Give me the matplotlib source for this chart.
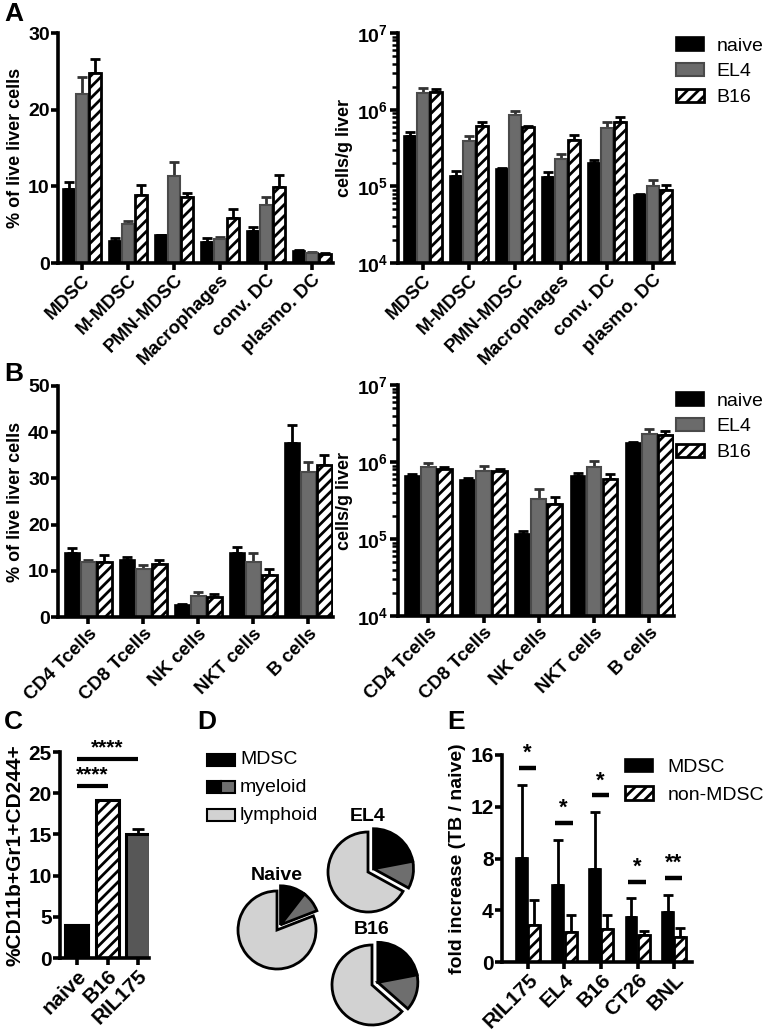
import numpy as np
import matplotlib
matplotlib.use('Agg')
import matplotlib.pyplot as plt
from matplotlib.patches import Rectangle
from matplotlib.ticker import LogLocator, NullFormatter, MultipleLocator

plt.rcParams['font.family'] = ['Liberation Sans', 'DejaVu Sans']
plt.rcParams['font.weight'] = 'bold'
plt.rcParams['hatch.linewidth'] = 2.0
plt.rcParams['mathtext.default'] = 'regular'

# ---------------- data ----------------
groups = ['naive', 'EL4', 'B16']

cats_A = ['MDSC', 'M-MDSC', 'PMN-MDSC', 'Macrophages', 'conv. DC', 'plasmo. DC']
pctA_naive = [9.6, 2.9, 3.6, 2.8, 4.2, 1.6]
pctA_naive_err = [1.0, 0.3, 0.1, 0.4, 0.5, 0.1]
pctA_el4 = [22.0, 5.1, 11.3, 3.1, 7.6, 1.3]
pctA_el4_err = [2.3, 0.4, 1.9, 0.3, 1.0, 0.1]
pctA_b16 = [24.8, 8.9, 8.6, 5.9, 9.9, 1.2]
pctA_b16_err = [1.8, 1.3, 0.5, 1.2, 1.6, 0.1]

cntA_naive = [4.6e5, 1.38e5, 1.68e5, 1.31e5, 2.0e5, 7.6e4]
cntA_naive_err = [0.45e5, 0.19e5, 0.05e5, 0.21e5, 0.23e5, 0.4e4]
cntA_el4 = [1.65e6, 3.86e5, 8.4e5, 2.3e5, 5.77e5, 1.0e5]
cntA_el4_err = [0.27e6, 0.63e5, 1.3e5, 0.37e5, 1.1e5, 0.22e5]
cntA_b16 = [1.70e6, 6.06e5, 5.9e5, 4.0e5, 6.84e5, 9.06e4]
cntA_b16_err = [0.18e6, 0.84e5, 0.3e5, 0.7e5, 1.1e5, 1.4e4]

cats_B = ['CD4 Tcells', 'CD8 Tcells', 'NK cells', 'NKT cells', 'B cells']
pctB_naive = [13.9, 12.3, 2.7, 13.9, 37.7]
pctB_naive_err = [1.0, 0.7, 0.2, 1.2, 3.8]
pctB_el4 = [11.8, 10.4, 4.5, 11.8, 31.3]
pctB_el4_err = [0.6, 0.8, 0.9, 2.1, 2.2]
pctB_b16 = [12.0, 11.5, 4.3, 9.0, 33.0]
pctB_b16_err = [1.4, 0.9, 0.7, 1.3, 2.0]

cntB_naive = [6.57e5, 5.77e5, 1.17e5, 6.57e5, 1.79e6]
cntB_naive_err = [0.5e5, 0.5e5, 0.09e5, 0.6e5, 0.03e6]
cntB_el4 = [8.6e5, 7.6e5, 3.33e5, 8.6e5, 2.34e6]
cntB_el4_err = [1.2e5, 1.3e5, 1.07e5, 1.7e5, 0.33e6]
cntB_b16 = [8.0e5, 7.6e5, 2.86e5, 6.06e5, 2.25e6]
cntB_b16_err = [0.7e5, 0.6e5, 0.64e5, 0.84e5, 0.29e6]

cats_C = ['naive', 'B16', 'RIL175']
vals_C = [4.0, 19.2, 15.0]
errs_C = [0.0, 0.0, 0.65]
sig_C_pairs = [(0, 1), (0, 2)]
sig_C_heights = [20.9, 24.15]
sig_C_labels = ['****', '****']

pie_labels = ['MDSC', 'myeloid', 'lymphoid']
pie_naive = [10.5, 8.6, 80.9]
pie_el4 = [22.0, 11.0, 67.0]
pie_b16 = [22.0, 14.5, 63.5]

cats_E = ['RIL175', 'EL4', 'B16', 'CT26', 'BNL']
mdsc_E = [8.05, 5.99, 7.17, 3.48, 3.87]
mdsc_E_err = [5.65, 3.46, 4.39, 1.50, 1.34]
non_E = [2.84, 2.32, 2.53, 2.06, 1.90]
non_E_err = [1.93, 1.28, 1.07, 0.31, 0.73]
sig_E_heights = [15.0, 10.76, 12.9, 6.19, 6.53]
sig_E_labels = ['*', '*', '*', '*', '**']

# ---------------- styling ----------------
W, H = 768, 1032
fig = plt.figure(figsize=(W / 100, H / 100), dpi=100)

def ax_px(x0, y0, x1, y1):
    return fig.add_axes([x0 / W, 1 - y1 / H, (x1 - x0) / W, (y1 - y0) / H])

C_EL4 = '#6b6b6b'
E_EL4 = '#4a4a4a'
C_MYEL = '#6e6e6e'
C_LYMPH = '#d2d2d2'
LW = 2.6

styles = [
    dict(color='black', edgecolor='black', linewidth=1.2),
    dict(color=C_EL4, edgecolor=E_EL4, linewidth=1.5),
    dict(color='white', edgecolor='black', hatch='///', linewidth=2.0),
]
err_colors = ['black', '#333333', 'black']

def style_axes(ax, tick_fs=14):
    for s in ['top', 'right']:
        ax.spines[s].set_visible(False)
    for s in ['left', 'bottom']:
        ax.spines[s].set_linewidth(LW)
    ax.tick_params(which='major', width=LW, length=5, labelsize=tick_fs, direction='out', pad=1)

def grouped(ax, cats, series, errs, width, step, log=False):
    x = np.arange(len(cats))
    offs = [-step, 0, step]
    handles = []
    for i, (vals, err) in enumerate(zip(series, errs)):
        vals = np.asarray(vals, float)
        err = np.asarray(err, float)
        if log:
            b = ax.bar(x + offs[i], vals - 1e4, bottom=1e4, width=width, label=groups[i], zorder=2, **styles[i])
        else:
            b = ax.bar(x + offs[i], vals, width=width, label=groups[i], zorder=2, **styles[i])
        ax.errorbar(x + offs[i], vals, yerr=[np.zeros_like(err), err], fmt='none',
                    ecolor=err_colors[i], elinewidth=2, capsize=3.5, capthick=2, zorder=1)
        handles.append(b)
    ax.set_xticks(x)
    ax.set_xticklabels(cats, rotation=45, ha='right', rotation_mode='anchor', fontsize=13.5, fontweight='bold')
    return handles

def log_axis(ax):
    ax.set_yscale('log')
    ax.set_ylim(1e4, 1e7)
    ax.yaxis.set_major_locator(LogLocator(base=10, numticks=10))
    ax.yaxis.set_minor_locator(LogLocator(base=10, subs=np.arange(2, 10), numticks=20))
    ax.yaxis.set_minor_formatter(NullFormatter())
    ax.tick_params(which='major', axis='y', length=6)
    ax.tick_params(which='minor', axis='y', width=1.8, length=4)
    ax.set_ylabel('cells/g liver', fontsize=13, fontweight='bold', labelpad=3)

def legend3(ax, handles, top_px):
    ax.legend(handles=handles, labels=groups, loc='upper left',
              bbox_to_anchor=(676 / W, 1 - top_px / H), bbox_transform=fig.transFigure,
              frameon=False, prop={'size': 14, 'weight': 'normal'}, handlelength=1.45,
              handleheight=0.7, handletextpad=0.65, labelspacing=0.42, borderpad=0, borderaxespad=0)

# ---- Panel A left ----
axA1 = ax_px(58, 33, 333, 263)
style_axes(axA1)
grouped(axA1, cats_A, [pctA_naive, pctA_el4, pctA_b16], [pctA_naive_err, pctA_el4_err, pctA_b16_err], 0.26, 0.28)
axA1.set_ylim(0, 30)
axA1.set_xlim(-0.52, 5.45)
axA1.yaxis.set_major_locator(MultipleLocator(10))
axA1.set_ylabel('% of live liver cells', fontsize=13, fontweight='bold', labelpad=3)

# ---- Panel A right ----
axA2 = ax_px(398, 33, 674, 263)
style_axes(axA2)
hA = grouped(axA2, cats_A, [cntA_naive, cntA_el4, cntA_b16], [cntA_naive_err, cntA_el4_err, cntA_b16_err], 0.26, 0.28, log=True)
log_axis(axA2)
axA2.set_xlim(-0.54, 5.45)
legend3(axA2, hA, 37)

# ---- Panel B left ----
axB1 = ax_px(58, 386, 333, 617)
style_axes(axB1)
grouped(axB1, cats_B, [pctB_naive, pctB_el4, pctB_b16], [pctB_naive_err, pctB_el4_err, pctB_b16_err], 0.27, 0.29)
axB1.set_ylim(0, 50)
axB1.set_xlim(-0.55, 4.45)
axB1.yaxis.set_major_locator(MultipleLocator(10))
axB1.set_ylabel('% of live liver cells', fontsize=13, fontweight='bold', labelpad=3)

# ---- Panel B right ----
axB2 = ax_px(398, 385, 674, 616)
style_axes(axB2)
hB = grouped(axB2, cats_B, [cntB_naive, cntB_el4, cntB_b16], [cntB_naive_err, cntB_el4_err, cntB_b16_err], 0.27, 0.29, log=True)
log_axis(axB2)
axB2.set_xlim(-0.55, 4.45)
legend3(axB2, hB, 392)

# ---- Panel C ----
axC = ax_px(60, 752, 149, 958)
style_axes(axC, tick_fs=15)
xc = np.arange(len(cats_C))
c_styles = [dict(color='black', edgecolor='black', linewidth=1.5),
            dict(color='white', edgecolor='black', hatch='///', linewidth=2.2),
            dict(color='#575757', edgecolor='black', linewidth=2.2)]
for i in range(len(cats_C)):
    axC.bar(xc[i], vals_C[i], width=0.78, zorder=2, **c_styles[i])
axC.errorbar(xc, vals_C, yerr=[np.zeros(3), errs_C], fmt='none', ecolor='black',
             elinewidth=2, capsize=4, capthick=2, zorder=1)
for (a, b), h, lab in zip(sig_C_pairs, sig_C_heights, sig_C_labels):
    axC.plot([xc[a], xc[b]], [h, h], color='black', lw=3, solid_capstyle='butt', clip_on=False)
    axC.text((xc[a] + xc[b]) / 2, h + 0.2, lab, ha='center', va='bottom', fontsize=15,
             fontweight='bold', clip_on=False)
axC.set_ylim(0, 25)
axC.set_xlim(-0.57, 2.37)
axC.yaxis.set_major_locator(MultipleLocator(5))
axC.set_xticks(xc)
axC.set_xticklabels(cats_C, rotation=45, ha='right', rotation_mode='anchor', fontsize=15, fontweight='bold')
axC.set_ylabel('%CD11b+Gr1+CD244+', fontsize=15, fontweight='bold', labelpad=3)

# ---- Panel D (pies) ----
axD = fig.add_axes([190 / W, 0, 260 / W, 300 / H])
pie_specs = [(pie_naive, (87, 102), 39, 'Naive'),
             (pie_el4, (178, 160), 40, 'EL4'),
             (pie_b16, (182, 47), 40, 'B16')]
pie_colors = ['black', C_MYEL, C_LYMPH]
for vals, (cx, cy), r, name in pie_specs:
    v = np.asarray(vals, float)
    frac = v / v.sum()
    mid = np.deg2rad(90 - 180 * (frac[0] + frac[1]))
    off = 0.16 * r
    wp = dict(edgecolor='black', linewidth=2)
    w1, _ = axD.pie(v, colors=pie_colors, startangle=90, counterclock=False, radius=r,
                    center=(cx, cy), wedgeprops=wp, frame=True)
    w1[0].set_visible(False)
    w1[1].set_visible(False)
    w2, _ = axD.pie(v, colors=pie_colors, startangle=90, counterclock=False, radius=r,
                    center=(cx + off * np.cos(mid), cy + off * np.sin(mid)), wedgeprops=wp, frame=True)
    w2[2].set_visible(False)
    axD.text(cx, cy + r + 7, name, ha='center', va='bottom', fontsize=14, fontweight='bold')
axD.set_xlim(0, 260)
axD.set_ylim(0, 300)
axD.set_aspect('equal')
axD.set_axis_off()
# legend for D
leg_rows = [(1032 - 760), (1032 - 787), (1032 - 815)]
for lab, yy, k in zip(pie_labels, leg_rows, range(3)):
    if k == 0:
        axD.add_patch(Rectangle((17, yy - 6), 28, 12, facecolor='black', edgecolor='black', lw=1.5))
    elif k == 1:
        axD.add_patch(Rectangle((17, yy - 6), 14, 12, facecolor='black', edgecolor='black', lw=1.5))
        axD.add_patch(Rectangle((31, yy - 6), 14, 12, facecolor=C_MYEL, edgecolor='black', lw=1.5))
    else:
        axD.add_patch(Rectangle((17, yy - 6), 28, 12, facecolor=C_LYMPH, edgecolor='black', lw=1.5))
    axD.text(50, yy, lab, ha='left', va='center', fontsize=14, fontweight='normal')

# ---- Panel E ----
axE = ax_px(502, 755, 692, 962)
style_axes(axE, tick_fs=15)
xe = np.arange(len(cats_E))
bE1 = axE.bar(xe - 0.17, mdsc_E, width=0.32, color='black', edgecolor='black', linewidth=1.2, zorder=2, label='MDSC')
axE.errorbar(xe - 0.17, mdsc_E, yerr=[np.zeros(5), mdsc_E_err], fmt='none', ecolor='black',
             elinewidth=2, capsize=3.5, capthick=2, zorder=1)
bE2 = axE.bar(xe + 0.17, non_E, width=0.32, color='white', edgecolor='black', hatch='///', linewidth=2.0,
              zorder=2, label='non-MDSC')
axE.errorbar(xe + 0.17, non_E, yerr=[np.zeros(5), non_E_err], fmt='none', ecolor='black',
             elinewidth=2, capsize=3.5, capthick=2, zorder=1)
for xi, h, lab in zip(xe, sig_E_heights, sig_E_labels):
    axE.plot([xi - 0.25, xi + 0.22], [h, h], color='black', lw=3.2, solid_capstyle='butt', clip_on=False)
    axE.text(xi - 0.02, h + 0.3, lab, ha='center', va='bottom', fontsize=16, fontweight='bold')
axE.set_ylim(0, 16)
axE.set_xlim(-0.71, 4.49)
axE.yaxis.set_major_locator(MultipleLocator(4))
axE.set_xticks(xe)
axE.set_xticklabels(cats_E, rotation=45, ha='right', rotation_mode='anchor', fontsize=15, fontweight='bold')
axE.set_ylabel('fold increase (TB / naive)', fontsize=14, fontweight='bold', labelpad=3)
axE.legend(handles=[bE1, bE2], loc='upper left', bbox_to_anchor=(625 / W, 1 - 759 / H),
           bbox_transform=fig.transFigure, frameon=False, prop={'size': 14, 'weight': 'normal'},
           handlelength=1.45, handleheight=0.68, handletextpad=0.75, labelspacing=0.5,
           borderpad=0, borderaxespad=0)

# ---- panel letters ----
for letter, (px, py) in zip('ABCDE', [(4, 14), (4, 374), (4, 722), (197, 722), (447, 722)]):
    fig.text(px / W, 1 - py / H, letter, fontsize=19, fontweight='bold', ha='left', va='center')

fig.savefig('out.png', dpi=100)
